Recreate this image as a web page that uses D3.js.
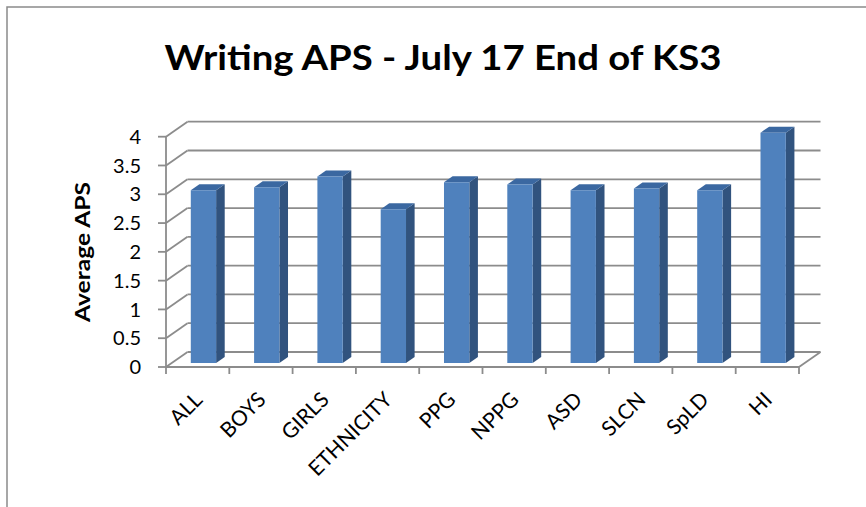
<!DOCTYPE html>
<html>
<head>
<meta charset="utf-8">
<script src="https://cdn.jsdelivr.net/npm/d3@7"></script>
<style>
  html, body { margin: 0; padding: 0; background: #fff; }
  svg { display: block; }
  text { font-family: Lato, "Open Sans", sans-serif; fill: #000; }
</style>
</head>
<body>
<div id="chart"></div>
<script>
// Writing APS chart - 3D style columns drawn with plain d3 shapes

const categories = ["ALL", "BOYS", "GIRLS", "ETHNICITY", "PPG", "NPPG", "ASD", "SLCN", "SpLD", "HI"];
const apsValues = [3.0, 3.05, 3.24, 2.67, 3.14, 3.1, 3.0, 3.03, 3.0, 4.0];
const yTicks = [0, 0.5, 1, 1.5, 2, 2.5, 3, 3.5, 4];
const chartTitle = "Writing APS - July 17 End of KS3";
const yTitle = "Average APS";

const width = 866, height = 507;

const svg = d3.select('#chart')
  .append('svg')
  .attr('width', width)
  .attr('height', height);

// outer chart border (right and bottom edges fall outside the picture)
svg.append('rect')
  .attr('x', 7).attr('y', 7)
  .attr('width', 900).attr('height', 600)
  .attr('fill', 'none')
  .attr('stroke', '#8a8a8a')
  .attr('stroke-width', 1.5);

// front plane scales
const x = d3.scaleBand()
  .domain(categories)
  .range([166, 799])
  .paddingInner(0.6)
  .paddingOuter(0.3);

const y = d3.scaleLinear()
  .domain([0, 4])
  .range([367, 136.7]);

// depth offset of the back wall
const DX = 21.5, DY = -15;
const p = (px, py, d) => [px + d * DX, py + d * DY];

const gridColor = '#8c8c8c';
const grid = svg.append('g')
  .attr('stroke', gridColor)
  .attr('stroke-width', 1.8)
  .attr('fill', 'none');

// back wall gridlines + side wall diagonals
yTicks.forEach(t => {
  const [bx, by] = p(x.range()[0], y(t), 1);
  const [ex, ey] = p(x.range()[1], y(t), 1);
  grid.append('line')
    .attr('x1', bx).attr('y1', by)
    .attr('x2', ex).attr('y2', ey);
  grid.append('line')
    .attr('x1', x.range()[0]).attr('y1', y(t))
    .attr('x2', bx).attr('y2', by);
});

// floor right edge
const [fx, fy] = p(x.range()[1], y(0), 1);
grid.append('line')
  .attr('x1', x.range()[1]).attr('y1', y(0))
  .attr('x2', fx).attr('y2', fy);

// axes
grid.append('line')
  .attr('x1', x.range()[0]).attr('y1', y(0))
  .attr('x2', x.range()[1]).attr('y2', y(0));
grid.append('line')
  .attr('x1', x.range()[0]).attr('y1', y(0))
  .attr('x2', x.range()[0]).attr('y2', y(4));

// y ticks
yTicks.forEach(t => {
  grid.append('line')
    .attr('x1', x.range()[0] - 8).attr('y1', y(t))
    .attr('x2', x.range()[0]).attr('y2', y(t));
});

// x ticks at category boundaries
d3.range(categories.length + 1).forEach(i => {
  const tx = x.range()[0] + i * x.step();
  grid.append('line')
    .attr('x1', tx).attr('y1', y(0))
    .attr('x2', tx).attr('y2', y(0) + 7);
});

// bars
const d0 = 0.27, d1 = 0.67;
const bars = svg.append('g');

categories.forEach((c, i) => {
  const v = apsValues[i];
  const xl = x(c), xr = x(c) + x.bandwidth();
  const yt = y(v), yb = y(0);

  const fl = p(xl, yt, d0), fr = p(xr, yt, d0);
  const flb = p(xl, yb, d0), frb = p(xr, yb, d0);
  const bl = p(xl, yt, d1), br = p(xr, yt, d1);
  const brb = p(xr, yb, d1);

  const g = bars.append('g');
  // side face
  g.append('path')
    .attr('d', d3.line()([fr, br, brb, frb]) + 'Z')
    .attr('fill', '#31537e');
  // top face
  g.append('path')
    .attr('d', d3.line()([fl, bl, br, fr]) + 'Z')
    .attr('fill', '#3b68a1');
  // front face
  g.append('path')
    .attr('d', d3.line()([fl, fr, frb, flb]) + 'Z')
    .attr('fill', '#4f81bd');
});

// y tick labels
svg.append('g')
  .selectAll('text')
  .data(yTicks)
  .enter()
  .append('text')
  .attr('x', 141)
  .attr('y', d => y(d))
  .attr('dy', '0.36em')
  .attr('text-anchor', 'end')
  .attr('font-size', '20px')
  .text(d => d);

// category labels
svg.append('g')
  .selectAll('text')
  .data(categories)
  .enter()
  .append('text')
  .attr('transform', d => `translate(${x(d) + x.bandwidth() / 2 + 6},${401}) rotate(-45)`)
  .attr('text-anchor', 'end')
  .attr('font-size', '21px')
  .text(d => d);

// y axis title
svg.append('text')
  .attr('transform', 'translate(90,252) rotate(-90)')
  .attr('text-anchor', 'middle')
  .attr('font-size', '20px')
  .attr('font-weight', 'bold')
  .attr('textLength', 140)
  .attr('lengthAdjust', 'spacingAndGlyphs')
  .text(yTitle);

// chart title
svg.append('text')
  .attr('x', 443)
  .attr('y', 70)
  .attr('text-anchor', 'middle')
  .attr('font-size', '35px')
  .attr('font-weight', 'bold')
  .attr('textLength', 557)
  .attr('lengthAdjust', 'spacingAndGlyphs')
  .text(chartTitle);
</script>
</body>
</html>
